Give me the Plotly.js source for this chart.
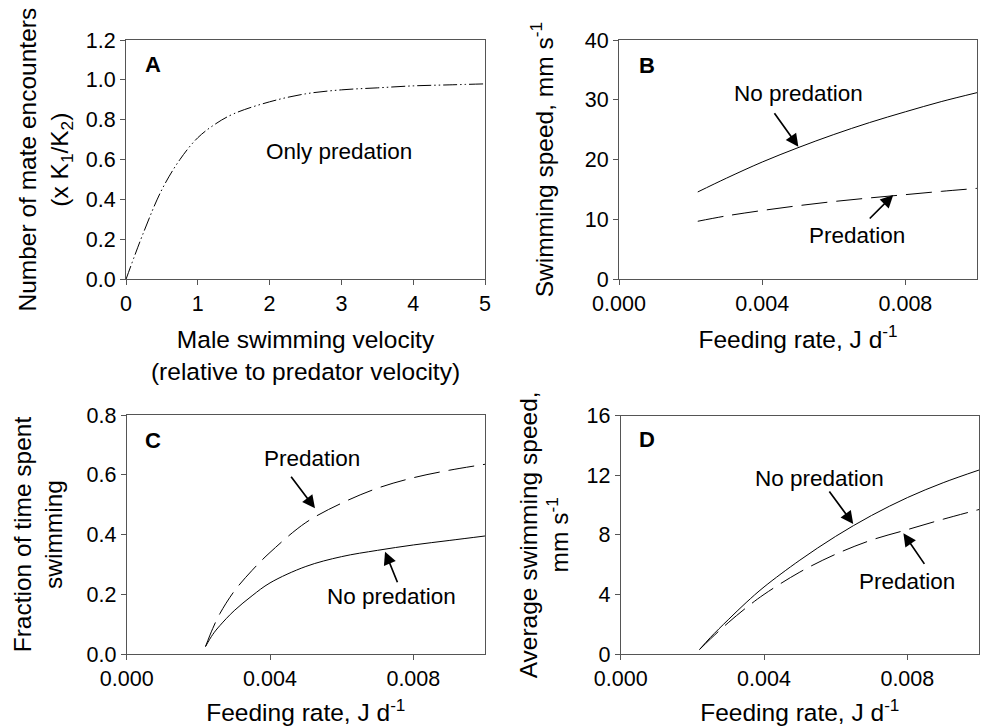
<!DOCTYPE html>
<html>
<head>
<meta charset="utf-8">
<script src="https://cdn.plot.ly/plotly-3.0.1.min.js"></script>
<style>html,body{margin:0;padding:0;background:#fff;}#chart{width:981px;height:726px;}</style>
</head>
<body>
<div id="chart"></div>
<script>
// Panel A
const velA = [0, 0.25, 0.5, 0.75, 1, 1.25, 1.5, 2, 2.5, 3, 3.5, 4, 4.5, 5];
const encountersA = [0, 0.24, 0.45, 0.6, 0.71, 0.78, 0.83, 0.89, 0.93, 0.95, 0.96, 0.97, 0.975, 0.98];
// Panel B
const feedB = [0.0022, 0.003, 0.004, 0.005, 0.006, 0.007, 0.008, 0.009, 0.01];
const speedNoPredB = [14.6, 16.9, 19.6, 22.0, 24.2, 26.2, 28.0, 29.7, 31.2];
const speedPredB = [9.7, 10.6, 11.5, 12.3, 13.0, 13.6, 14.15, 14.7, 15.2];
// Panel C
const feedC = [0.0022, 0.0024, 0.0026, 0.003, 0.0035, 0.004, 0.005, 0.006, 0.007, 0.008, 0.009, 0.01];
const fracPredC = [0.025, 0.085, 0.135, 0.21, 0.28, 0.34, 0.44, 0.505, 0.555, 0.59, 0.615, 0.635];
const fracNoPredC = [0.025, 0.065, 0.095, 0.145, 0.195, 0.238, 0.293, 0.326, 0.347, 0.365, 0.38, 0.395];
// Panel D
const feedD = [0.0022, 0.0025, 0.003, 0.0035, 0.004, 0.005, 0.006, 0.007, 0.008, 0.009, 0.01];
const avgNoPredD = [0.3, 1.1, 2.3, 3.45, 4.5, 6.3, 7.9, 9.3, 10.5, 11.5, 12.35];
const avgPredD = [0.3, 1.0, 2.1, 3.1, 4.0, 5.5, 6.7, 7.65, 8.35, 9.05, 9.7];

const FONT = 'Liberation Sans, Arial, Helvetica, sans-serif';
const AX = '#555';
const dashLong = '26px,9px';
const SM = 1;

const traces = [
  {x: velA, y: encountersA, xaxis: 'x', yaxis: 'y', mode: 'lines', line: {color: '#000', width: 1, dash: '14px,3px,1.5px,3px,1.5px,3px', shape: 'spline', smoothing: SM}, name: 'Only predation'},
  {x: feedB, y: speedNoPredB, xaxis: 'x2', yaxis: 'y2', mode: 'lines', line: {color: '#000', width: 1, shape: 'spline', smoothing: SM}, name: 'No predation'},
  {x: feedB, y: speedPredB, xaxis: 'x2', yaxis: 'y2', mode: 'lines', line: {color: '#000', width: 1, dash: dashLong, shape: 'spline', smoothing: SM}, name: 'Predation'},
  {x: feedC, y: fracPredC, xaxis: 'x3', yaxis: 'y3', mode: 'lines', line: {color: '#000', width: 1, dash: dashLong, shape: 'spline', smoothing: SM}, name: 'Predation'},
  {x: feedC, y: fracNoPredC, xaxis: 'x3', yaxis: 'y3', mode: 'lines', line: {color: '#000', width: 1, shape: 'spline', smoothing: SM}, name: 'No predation'},
  {x: feedD, y: avgNoPredD, xaxis: 'x4', yaxis: 'y4', mode: 'lines', line: {color: '#000', width: 1, shape: 'spline', smoothing: SM}, name: 'No predation'},
  {x: feedD, y: avgPredD, xaxis: 'x4', yaxis: 'y4', mode: 'lines', line: {color: '#000', width: 1, dash: dashLong, shape: 'spline', smoothing: SM}, name: 'Predation'}
];

function axBase(extra) {
  return Object.assign({
    showline: true, mirror: true, linecolor: AX, linewidth: 1,
    ticks: 'outside', ticklen: 5, tickcolor: AX, tickwidth: 1,
    showgrid: false, zeroline: false,
    tickfont: {family: FONT, size: 21.5, color: '#000'},
    automargin: false
  }, extra);
}
function ttl(text, standoff) {
  return {text: text, font: {family: FONT, size: 24.5, color: '#000'}, standoff: standoff};
}

const W = 981, H = 726;
const px = (a, b) => [a / W, b / W];
const py = (top, bottom) => [(H - bottom) / H, (H - top) / H];

const layout = {
  width: W, height: H,
  margin: {l: 0, r: 0, t: 0, b: 0},
  paper_bgcolor: '#fff', plot_bgcolor: '#fff',
  showlegend: false,
  font: {family: FONT, color: '#000'},
  xaxis: axBase({domain: px(126, 485), anchor: 'y', range: [0, 5], dtick: 1, tickformat: 'd', title: ttl('Male swimming velocity<br>(relative to predator velocity)', 15)}),
  yaxis: axBase({domain: py(40, 279.3), anchor: 'x', range: [0, 1.2], dtick: 0.2, tickformat: '.1f', title: ttl('Number of mate encounters<br>(x K<sub>1</sub>/K<sub>2</sub>)', 10)}),
  xaxis2: axBase({domain: px(619, 977), anchor: 'y2', range: [0, 0.01], dtick: 0.004, tickformat: '.3f', title: ttl('Feeding rate, J d<sup>-1</sup>', 15)}),
  yaxis2: axBase({domain: py(40, 279.3), anchor: 'x2', range: [0, 40], dtick: 10, title: ttl('Swimming speed, mm s<sup>-1</sup>', 24)}),
  xaxis3: axBase({domain: px(126.7, 485), anchor: 'y3', range: [0, 0.01], dtick: 0.004, tickformat: '.3f', title: ttl('Feeding rate, J d<sup>-1</sup>', 15)}),
  yaxis3: axBase({domain: py(415, 654), anchor: 'x3', range: [0, 0.8], dtick: 0.2, tickformat: '.1f', title: ttl('Fraction of time spent<br>swimming', 16)}),
  xaxis4: axBase({domain: px(620.7, 979), anchor: 'y4', range: [0, 0.01], dtick: 0.004, tickformat: '.3f', title: ttl('Feeding rate, J d<sup>-1</sup>', 15)}),
  yaxis4: axBase({domain: py(415.7, 654), anchor: 'x4', range: [0, 16], dtick: 4, title: ttl('Average swimming speed,<br>mm s<sup>-1</sup>', 10)}),
  annotations: []
};

function label(xref, yref, x, y, text, bold) {
  layout.annotations.push({xref: xref, yref: yref, x: x, y: y, text: bold ? '<b>' + text + '</b>' : text,
    showarrow: false, xanchor: 'center', yanchor: 'middle',
    font: {family: FONT, size: bold ? 22 : 22.5, color: '#000'}});
}
function arrow(xref, yref, x, y, ax, ay) {
  layout.annotations.push({xref: xref, yref: yref, x: x, y: y, ax: ax, ay: ay, text: '',
    showarrow: true, arrowhead: 2, arrowsize: 1.5, arrowwidth: 1.7, arrowcolor: '#000', standoff: 0});
}

// Panel letters
label('x', 'y', 0.376, 1.075, 'A', true);
label('x2', 'y2', 0.00077, 35.8, 'B', true);
label('x3', 'y3', 0.00073, 0.716, 'C', true);
label('x4', 'y4', 0.00073, 14.37, 'D', true);

// Panel A
label('x', 'y', 2.97, 0.64, 'Only predation');
// Panel B
label('x2', 'y2', 0.005, 31.1, 'No predation');
arrow('x2', 'y2', 0.00501, 22.16, -25, -35);
label('x2', 'y2', 0.00664, 7.4, 'Predation');
arrow('x2', 'y2', 0.00766, 14.09, -25, 25);
// Panel C
label('x3', 'y3', 0.00516, 0.653, 'Predation');
arrow('x3', 'y3', 0.005255, 0.4877, -25, -33);
label('x3', 'y3', 0.0074, 0.192, 'No predation');
arrow('x3', 'y3', 0.00721, 0.3424, 13, 32);
// Panel D
label('x4', 'y4', 0.00554, 11.79, 'No predation');
arrow('x4', 'y4', 0.00649, 8.73, -25, -34);
label('x4', 'y4', 0.00798, 4.85, 'Predation');
arrow('x4', 'y4', 0.00789, 8.10, 22, 32);

Plotly.newPlot('chart', traces, layout, {staticPlot: true, displayModeBar: false});
</script>
</body>
</html>
